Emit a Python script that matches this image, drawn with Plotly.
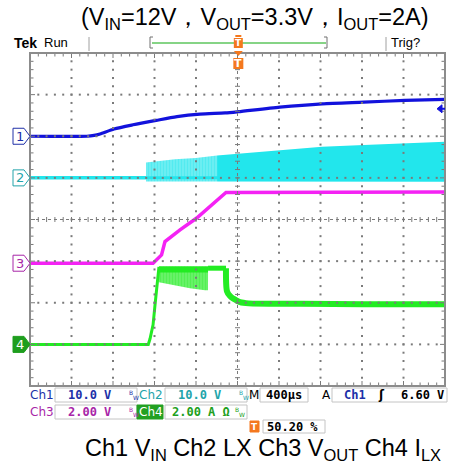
import plotly.graph_objects as go

# ---------------- canvas / screen geometry ----------------
W, H = 450, 463
PL, PR, PT, PB = 30, 445, 53, 386          # graticule area in px
NX, NY = 10, 8
DX = (PR - PL) / NX
DY = (PB - PT) / NY

# ---------------- scope settings ----------------
TIME_PER_DIV = 400.0        # µs/div
TRIG_POS = 0.502            # 50.20 %
TRIG_LEVEL = 6.6            # V on Ch1
T_START = -TRIG_POS * NX * TIME_PER_DIV
T_END = T_START + NX * TIME_PER_DIV

ch_scales = [10.0, 10.0, 2.0, 2.0]          # V/div, V/div, V/div, A/div
ch_offsets = [6.0, 5.0, 2.95, 1.0]          # ground marker position (div from bottom)

# ---------------- data (µs, V / A) ----------------
ch1_t = [-2008, -1460, -1390, -1333, -1198, -1015, -793, -591, -369, -128, 0, 400, 808, 1209, 1605, 1992]
ch1_v = [0.0, 0.0, 0.2, 0.55, 1.75, 2.75, 3.8, 4.7, 5.3, 5.6, 5.9, 7.0, 7.8, 8.2, 8.6, 8.85]

ch2_idle_t = [-2008, -890]
ch2_idle_v = [0.0, 0.0]
ch2_sw1_t = [-890, -610, -410, -205]
ch2_sw1_hi = [3.7, 4.45, 4.8, 5.35]
ch2_sw1_lo = [-0.9, -0.9, -0.9, -0.9]
ch2_sw2_t = [-205, 112, 400, 808, 1209, 1558, 1992]
ch2_sw2_hi = [5.35, 6.0, 6.5, 7.5, 7.9, 8.3, 8.7]
ch2_sw2_lo = [-0.9, -0.9, -0.95, -0.95, -0.95, -0.95, -0.95]

ch3_t = [-2008, -822, -740, -707, -562, -401, -119, 600, 1992]
ch3_v = [0.0, 0.0, 0.40, 1.04, 1.60, 2.17, 3.40, 3.42, 3.42]

ch4_t = [-2008, -868, -851, -822, -803, -784, -765]
ch4_i = [0.0, 0.0, 0.27, 0.94, 1.9, 2.76, 3.72]
ch4_rip_t = [-765, -610, -466, -321, -292]
ch4_rip_hi = [3.75, 3.75, 3.75, 3.75, 3.75]
ch4_rip_lo = [2.99, 2.85, 2.70, 2.60, 2.60]
ch4_hold_t = [-292, -119]
ch4_hold_i = [3.66, 3.66]
ch4_tail_t = [-119, -109, -80, -50, -13, 16, 100, 600, 1200, 1992]
ch4_tail_i = [3.66, 2.55, 2.32, 2.20, 2.10, 2.03, 1.97, 1.95, 1.93, 1.93]

# ---------------- colours ----------------
C1, C2, C3, C4 = "#1212dc", "#22e6ec", "#f422f4", "#22ec22"
L1, L2, L3, L4 = "#2030a8", "#22a4aa", "#a826a8", "#1e9e1e"
GRID = "#7a7a7a"
ORANGE = "#f4781e"


def px(x):
    return x / W


def py(y):
    return 1 - y / H


fig = go.Figure()

# main (empty) subplot so the others become overlays
fig.add_trace(go.Scatter(x=[], y=[], xaxis="x", yaxis="y", mode="lines",
                         hoverinfo="skip", showlegend=False))

# ---------------- graticule (division units on x2 / y) ----------------
def seg_trace(segs, color, width, dash=None):
    xs, ys = [], []
    for x0, y0, x1, y1 in segs:
        xs += [x0, x1, None]
        ys += [y0, y1, None]
    return go.Scatter(x=xs, y=ys, xaxis="x2", yaxis="y", mode="lines",
                      line=dict(color=color, width=width, dash=dash),
                      hoverinfo="skip", showlegend=False)

dots_x, dots_y = [], []
for i in range(1, NX):
    if i == NX // 2:
        continue
    for k in range(1, NY * 5):
        dots_x.append(i); dots_y.append(k * 0.2)
for j in range(1, NY):
    if j == NY // 2:
        continue
    for k in range(1, NX * 5):
        dots_x.append(k * 0.2); dots_y.append(j)
fig.add_trace(go.Scatter(x=dots_x, y=dots_y, xaxis="x2", yaxis="y", mode="markers",
                         marker=dict(size=2, color=GRID, symbol="square", line=dict(width=0)),
                         hoverinfo="skip", showlegend=False))

# centre cross
cx, cy = NX / 2, NY / 2
fig.add_trace(seg_trace([(0, cy, NX, cy), (cx, 0, cx, NY)], GRID, 1, "dot"))
hx, hy = 2.5 / DX, 2.5 / DY
ticks = [(k * 0.2, cy - hy, k * 0.2, cy + hy) for k in range(1, NX * 5)]
ticks += [(cx - hx, k * 0.2, cx + hx, k * 0.2) for k in range(1, NY * 5)]
fig.add_trace(seg_trace(ticks, GRID, 1))

# border ticks
bt = []
for k in range(1, NX * 5):
    ln = (5 if k % 5 == 0 else 3.5) / DY
    bt += [(k * 0.2, NY, k * 0.2, NY - ln), (k * 0.2, 0, k * 0.2, ln)]
for k in range(1, NY * 5):
    ln = (5 if k % 5 == 0 else 3.5) / DX
    bt += [(0, k * 0.2, ln, k * 0.2), (NX, k * 0.2, NX - ln, k * 0.2)]
fig.add_trace(seg_trace(bt, GRID, 1))

# ---------------- channel traces ----------------
def line(t, v, ax, color, width, shape="linear", smoothing=None):
    ln = dict(color=color, width=width, shape=shape)
    if smoothing is not None:
        ln["smoothing"] = smoothing
    return go.Scatter(x=t, y=v, xaxis="x", yaxis=ax, mode="lines", line=ln,
                      hoverinfo="skip", showlegend=False)


def band(t, hi, lo, ax, fill, pattern=None):
    xs = list(t) + list(t)[::-1]
    ys = list(hi) + list(lo)[::-1]
    kw = dict(x=xs, y=ys, xaxis="x", yaxis=ax, mode="lines", fill="toself",
              line=dict(width=0), fillcolor=fill, hoverinfo="skip", showlegend=False)
    if pattern is not None:
        kw["fillpattern"] = pattern
    return go.Scatter(**kw)

# Ch4
fig.add_trace(band(ch4_rip_t, ch4_rip_hi, ch4_rip_lo, "y5", "rgba(34,236,34,0.6)",
                   dict(shape="|", fgcolor=C4, bgcolor="rgba(34,236,34,0.55)", size=3, solidity=0.75)))
fig.add_trace(line(ch4_t, ch4_i, "y5", C4, 3))
fig.add_trace(line(ch4_rip_t, [v - 0.15 for v in ch4_rip_hi], "y5", C4, 6))
fig.add_trace(line(ch4_hold_t, ch4_hold_i, "y5", C4, 5))
fig.add_trace(line(ch4_tail_t, ch4_tail_i, "y5", C4, 6, "spline", 0.8))
# Ch3
fig.add_trace(line(ch3_t, ch3_v, "y4", C3, 3.5))
# Ch2
fig.add_trace(band(ch2_sw1_t, ch2_sw1_hi, ch2_sw1_lo, "y3", "rgba(34,230,236,0.6)",
                   dict(shape="|", fgcolor=C2, bgcolor="rgba(34,230,236,0.55)", size=3, solidity=0.7)))
fig.add_trace(band(ch2_sw2_t, ch2_sw2_hi, ch2_sw2_lo, "y3", C2))
fig.add_trace(line(ch2_idle_t, ch2_idle_v, "y3", C2, 3.5))
fig.add_trace(line(ch2_sw1_t + ch2_sw2_t, [0.0] * (len(ch2_sw1_t) + len(ch2_sw2_t)), "y3", C2, 3))
# Ch1
fig.add_trace(line(ch1_t, ch1_v, "y2", C1, 3.2, "spline", 0.7))

# ---------------- axes ----------------
dom_x = [PL / W, PR / W]
dom_y = [1 - PB / H, 1 - PT / H]
hidden = dict(visible=False, showgrid=False, zeroline=False, fixedrange=True)
layout_axes = dict(
    xaxis=dict(domain=dom_x, range=[T_START, T_END], anchor="y", **hidden),
    xaxis2=dict(range=[0, NX], overlaying="x", anchor="y", **hidden),
    yaxis=dict(domain=dom_y, range=[0, NY], anchor="x", **hidden),
)
for n, (s, o) in enumerate(zip(ch_scales, ch_offsets), start=2):
    layout_axes[f"yaxis{n}"] = dict(range=[-o * s, (NY - o) * s],
                                   overlaying="y", anchor="x", **hidden)

shapes, ann = [], []

# border
shapes.append(dict(type="rect", xref="paper", yref="paper", x0=px(PL), x1=px(PR),
                   y0=py(PB), y1=py(PT), line=dict(color="#8c8c8c", width=2)))

# ground markers
mk_cols = [(L1, "white", L1), (L2, "white", L2), (L3, "white", L3), (L4, L4, "white")]
for idx, (o, (edge, fill, txt_c)) in enumerate(zip(ch_offsets, mk_cols), start=1):
    yc = PB - o * DY
    path = (f"M {px(13)},{py(yc-8)} L {px(24)},{py(yc-8)} L {px(30)},{py(yc)} "
            f"L {px(24)},{py(yc+8)} L {px(13)},{py(yc+8)} Z")
    shapes.append(dict(type="path", xref="paper", yref="paper", path=path,
                       line=dict(color=edge, width=1), fillcolor=fill))
    ann.append(dict(x=px(19.5), y=py(yc), text=str(idx),
                    font=dict(family="DejaVu Sans", size=13, color=txt_c)))

# trigger level arrow (right side)
ytl = PB - (ch_offsets[0] + TRIG_LEVEL / ch_scales[0]) * DY
shapes.append(dict(type="path", xref="paper", yref="paper",
                   path=f"M {px(437)},{py(ytl)} L {px(442)},{py(ytl-4)} L {px(442)},{py(ytl+4)} Z",
                   line=dict(color=C1, width=1), fillcolor=C1))
shapes.append(dict(type="line", xref="paper", yref="paper", x0=px(441), x1=px(445),
                   y0=py(ytl), y1=py(ytl), line=dict(color=C1, width=2)))

# header bar
shapes += [
    dict(type="line", xref="paper", yref="paper", x0=px(89), x1=px(89), y0=py(37), y1=py(51),
         line=dict(color="#a0a0a0", width=1)),
    dict(type="line", xref="paper", yref="paper", x0=px(386), x1=px(386), y0=py(37), y1=py(51),
         line=dict(color="#a0a0a0", width=1)),
    dict(type="line", xref="paper", yref="paper", x0=px(152), x1=px(326), y0=py(43), y1=py(43),
         line=dict(color="#86d486", width=2)),
    dict(type="path", xref="paper", yref="paper",
         path=f"M {px(153)},{py(37)} L {px(150)},{py(37)} L {px(150)},{py(48)} L {px(153)},{py(48)}",
         line=dict(color="#707070", width=1)),
    dict(type="path", xref="paper", yref="paper",
         path=f"M {px(324)},{py(37)} L {px(327)},{py(37)} L {px(327)},{py(48)} L {px(324)},{py(48)}",
         line=dict(color="#707070", width=1)),
]
xt = PL + TRIG_POS * NX * DX
shapes += [
    dict(type="rect", xref="paper", yref="paper", x0=px(xt - 3), x1=px(xt + 3), y0=py(37), y1=py(35),
         line=dict(width=0), fillcolor=ORANGE),
    dict(type="rect", xref="paper", yref="paper", x0=px(xt - 4.5), x1=px(xt + 4.5), y0=py(48), y1=py(38),
         line=dict(width=0), fillcolor=ORANGE),
    dict(type="path", xref="paper", yref="paper",
         path=f"M {px(xt-4.5)},{py(51)} L {px(xt+4.5)},{py(51)} L {px(xt)},{py(56)} Z",
         line=dict(width=0), fillcolor=ORANGE),
    dict(type="rect", xref="paper", yref="paper", x0=px(xt - 5), x1=px(xt + 5), y0=py(69), y1=py(58),
         line=dict(width=0), fillcolor=ORANGE),
]
ann += [
    dict(x=px(xt), y=py(43), text="<b>T</b>", font=dict(family="DejaVu Sans", size=9, color="white")),
    dict(x=px(xt), y=py(63.5), text="<b>T</b>", font=dict(family="DejaVu Sans", size=11, color="white")),
    dict(x=px(12), y=py(43), text="<b>Tek</b>", xanchor="left",
         font=dict(family="Liberation Sans", size=14, color="black")),
    dict(x=px(42), y=py(43), text="Run", xanchor="left",
         font=dict(family="Liberation Sans", size=13, color="black")),
    dict(x=px(389), y=py(43), text="Trig?", xanchor="left",
         font=dict(family="Liberation Sans", size=13, color="black")),
]

# title and caption
ann.append(dict(x=px(254), y=py(18), text="(V<sub>IN</sub>=12V，V<sub>OUT</sub>=3.3V，I<sub>OUT</sub>=2A)",
                font=dict(family="Liberation Sans", size=23.5, color="black")))
ann.append(dict(x=px(263), y=py(449), text="Ch1 V<sub>IN</sub> Ch2 LX Ch3 V<sub>OUT</sub> Ch4 I<sub>LX</sub>",
                font=dict(family="Liberation Sans", size=23.5, color="black")))

# status boxes
def box(x0, y0, x1, y1, fill="white", edge="#c4c4c4"):
    shapes.append(dict(type="rect", xref="paper", yref="paper", x0=px(x0), x1=px(x1),
                       y0=py(y1), y1=py(y0), line=dict(color=edge, width=1), fillcolor=fill))

box(55, 388, 137, 402); box(165, 388, 247, 402); box(260, 388, 308, 402); box(332, 388, 447, 402)
box(55, 405, 137, 419); box(165, 405, 247, 419)
box(137, 405, 163, 419, fill="#22a022", edge="#22a022")
box(250, 421, 259, 432, fill=ORANGE, edge=ORANGE)
box(263, 420, 325, 433)

LAB = "DejaVu Sans"
VAL = "DejaVu Sans Mono"


def txt(x, y, s, color, size=12, fam=LAB, anchor="left"):
    ann.append(dict(x=px(x), y=py(y), text=s, xanchor=anchor,
                    font=dict(family=fam, size=size, color=color)))


def bw(x, y, color):
    txt(x, y - 2.5, "B", color, 6, LAB)
    txt(x + 4, y + 2.5, "W", color, 6, LAB)

txt(28, 395, "Ch1", L1, 12)
txt(113, 395, "<b>10.0 V</b>", L1, 12, VAL, "right")
bw(127, 395, L1)
txt(137, 395, "Ch2", L2, 12)
txt(223, 395, "<b>10.0 V</b>", L2, 12, VAL, "right")
bw(237, 395, L2)
txt(247, 395, "M", "black", 12)
txt(284, 395, "<b>400µs</b>", "black", 12, VAL, "center")
txt(320, 395, "A", "black", 12)
txt(342, 395, "<b>Ch1</b>", L1, 12, VAL)
txt(376, 395, "<b>ʃ</b>", "black", 12, LAB)
txt(446, 395, "<b>6.60 V</b>", "black", 12, VAL, "right")

txt(28, 412, "Ch3", L3, 12)
txt(113, 412, "<b>2.00 V</b>", L3, 12, VAL, "right")
bw(127, 412, L3)
txt(137, 412, "Ch4", "white", 12)
txt(232, 412, "<b>2.00 A Ω</b>", "#20a020", 12, VAL, "right")
bw(233, 412, "#20a020")
txt(254.5, 426.5, "<b>T</b>", "white", 9, LAB, "center")
txt(265, 426.5, "<b>50.20 %</b>", "black", 12, VAL)

for a in ann:
    a.setdefault("xref", "paper")
    a.setdefault("yref", "paper")
    a.setdefault("showarrow", False)
    a.setdefault("xanchor", "center")
    a.setdefault("yanchor", "middle")

fig.update_layout(width=W, height=H, margin=dict(l=0, r=0, t=0, b=0),
                  paper_bgcolor="white", plot_bgcolor="rgba(0,0,0,0)",
                  shapes=shapes, annotations=ann, showlegend=False, **layout_axes)

fig.write_html("out.html", config={"displayModeBar": False},
               post_script="document.body.style.margin='0px';")
